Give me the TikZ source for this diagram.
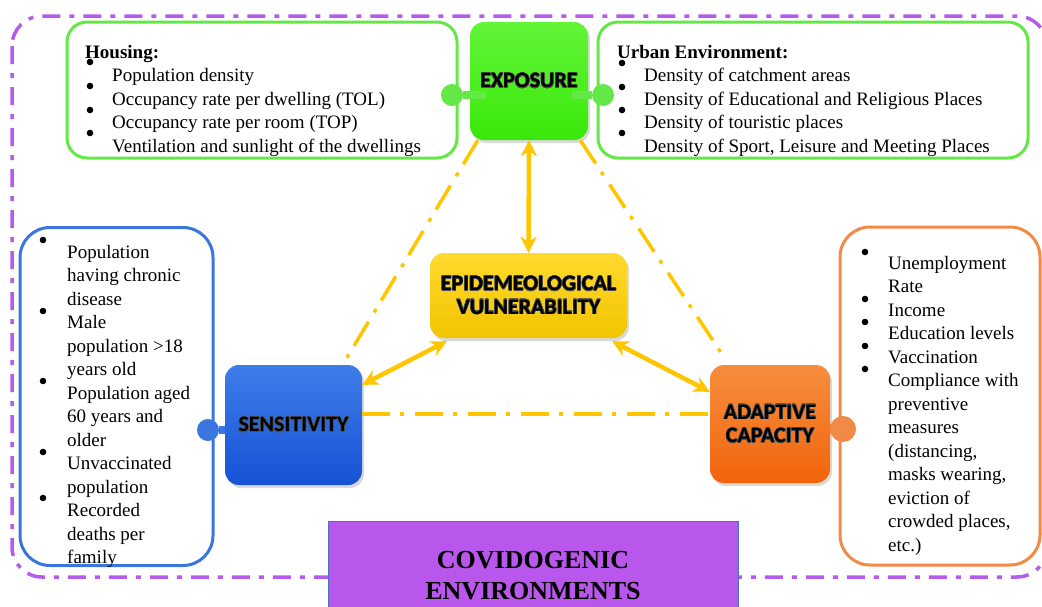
\documentclass[tikz,border=0pt]{standalone}
\usepackage{fontspec}
\usepackage[copies]{contour}
\setmainfont{Liberation Serif}
\newfontfamily\boxfont{Carlito}
\usetikzlibrary{arrows.meta,shadows}
\contourlength{0.45pt}

\definecolor{expotop}{RGB}{98,245,56}
\definecolor{expobot}{RGB}{58,232,10}
\definecolor{senstop}{RGB}{62,125,232}
\definecolor{sensbot}{RGB}{22,82,214}
\definecolor{adapttop}{RGB}{246,142,62}
\definecolor{adaptbot}{RGB}{242,100,12}
\definecolor{vulntop}{RGB}{255,218,45}
\definecolor{vulnbot}{RGB}{242,196,0}
\definecolor{linkyellow}{RGB}{255,198,0}
\definecolor{framepurple}{RGB}{182,92,236}
\definecolor{covidpurple}{RGB}{185,87,236}
\definecolor{covidborder}{RGB}{68,114,196}
\definecolor{greenline}{RGB}{100,232,70}
\definecolor{blueline}{RGB}{58,118,222}
\definecolor{orangeline}{RGB}{240,138,70}
\definecolor{glow}{RGB}{80,80,80}

\newcommand{\glowtext}[1]{\contour{glow}{#1}}

\begin{document}
\begin{tikzpicture}[x=1pt, y=-1pt,
    factor/.style = {rounded corners=14pt, inner sep=0pt, align=center,
        font=\boxfont\bfseries\fontsize{22}{23.5}\selectfont,
        drop shadow={opacity=0.3, shadow xshift=2pt, shadow yshift=-3pt}},
    itembox/.style = {draw=#1, line width=3pt, fill=white},
    items/.style = {anchor=north west, inner sep=0pt, align=left,
        font=\fontsize{19}{23.5}\selectfont, execute at begin node=\strut},
    knob/.style = {circle, inner sep=0pt, fill=#1, minimum size=22pt},
    link/.style = {linkyellow, line width=4.5pt,
        {Stealth[length=16pt,width=16pt,inset=5pt]}-{Stealth[length=16pt,width=16pt,inset=5pt]}},
    loose/.style = {linkyellow, line width=3.5pt,
        dash pattern=on 28pt off 10pt on 4pt off 11pt}]
\useasboundingbox (0,0) rectangle (1042,606);
\draw[framepurple, line width=3.5pt, rounded corners=30pt,
    dash pattern=on 18pt off 9pt on 5pt off 9pt] (12,16) rectangle (1047,577);

\node[itembox=greenline, rounded corners=20pt, minimum width=390pt,
    minimum height=136pt] (housing) at (262,90) {};
\node[itembox=greenline, rounded corners=20pt, minimum width=430pt,
    minimum height=136pt] (urban) at (813,90) {};
\node[itembox=blueline, rounded corners=30pt, minimum width=193pt,
    minimum height=338pt] (sensbox) at (116.5,396.5) {};
\node[itembox=orangeline, rounded corners=30pt, minimum width=200pt,
    minimum height=338pt] (adaptbox) at (940,396) {};

\node[items] (housinglist) at (85,45) {\textbf{Housing:}\\
    \hspace*{27pt}Population density\\
    \hspace*{27pt}Occupancy rate per dwelling (TOL)\\
    \hspace*{27pt}Occupancy rate per room (TOP)\\
    \hspace*{27pt}Ventilation and sunlight of the dwellings};
\node[items] (urbanlist) at (617,45) {\textbf{Urban Environment:}\\
    \hspace*{27pt}Density of catchment areas\\
    \hspace*{27pt}Density of Educational and Religious Places\\
    \hspace*{27pt}Density of touristic places\\
    \hspace*{27pt}Density of Sport, Leisure and Meeting Places};
\node[items] (senslist) at (67,245) {Population\\ having chronic\\ disease\\
    Male\\ population >18\\ years old\\ Population aged\\ 60 years and\\ older\\
    Unvaccinated\\ population\\ Recorded\\ deaths per\\ family};
\node[items] (adaptlist) at (888,256) {Unemployment\\ Rate\\ Income\\
    Education levels\\ Vaccination\\ Compliance with\\ preventive\\ measures\\
    (distancing,\\ masks wearing,\\ eviction of\\ crowded places,\\ etc.)};

\foreach \x/\y in {90/62, 90/86, 90/110, 90/133, 622/63, 622/87, 622/110, 622/133,
    43/240, 43/311, 43/381, 43/452, 43/498,
    865/252, 865/299, 865/322, 865/346, 865/369}
    \fill (\x,\y) circle (3.3pt);

\node[factor, top color=expotop, bottom color=expobot, minimum width=118pt,
    minimum height=118pt] (exposure) at (529,81) {\glowtext{EXPOSURE}};
\node[factor, top color=vulntop, bottom color=vulnbot, minimum width=197pt,
    minimum height=85pt] (vulnerability) at (528.5,295.5)
    {\glowtext{EPIDEMEOLOGICAL}\\\glowtext{VULNERABILITY}};
\node[factor, top color=senstop, bottom color=sensbot, minimum width=137pt,
    minimum height=120pt] (sensitivity) at (293.5,425) {\glowtext{SENSITIVITY}};
\node[factor, top color=adapttop, bottom color=adaptbot, minimum width=120pt,
    minimum height=118pt] (adaptive) at (770,424)
    {\glowtext{ADAPTIVE}\\\glowtext{CAPACITY}};

\node[knob=greenline] (hknob) at (452,95) {};
\node[knob=greenline] (uknob) at (603,95) {};
\node[knob=blueline] (sknob) at (208,430) {};
\node[knob=orangeline, minimum size=26pt] (aknob) at (843,429) {};
\draw[greenline, line width=8pt] (hknob) -- ([xshift=16pt]hknob -| exposure.west);
\draw[greenline, line width=8pt] (uknob) -- ([xshift=-16pt]uknob -| exposure.east);
\draw[blueline, line width=8pt] (sknob) -- (sknob -| sensitivity.west);
\draw[orangeline, line width=10pt] (aknob) -- (aknob -| adaptive.east);

\draw[link] (exposure.south) -- (vulnerability.north);
\draw[link] ([xshift=17pt,yshift=-3pt]vulnerability.south west)
    -- ([yshift=-20pt]sensitivity.north east);
\draw[link] ([xshift=-15pt,yshift=-3pt]vulnerability.south east)
    -- ([yshift=-27pt]adaptive.north west);
\draw[loose] ([xshift=8pt]exposure.south west)
    -- ([xshift=-16pt,yshift=6pt]sensitivity.north east);
\draw[loose] ([xshift=-8pt]exposure.south east)
    -- ([xshift=16pt,yshift=5pt]adaptive.north west);
\draw[loose] ([yshift=11pt]sensitivity.east) -- ([yshift=11pt]sensitivity.east -| adaptive.west);

\node[draw=covidborder, line width=1pt, fill=covidpurple, minimum width=410pt,
    minimum height=109pt, align=center,
    font=\bfseries\fontsize{26}{31}\selectfont] (covid) at (533,575.5)
    {COVIDOGENIC\\ENVIRONMENTS};
\end{tikzpicture}
\end{document}
